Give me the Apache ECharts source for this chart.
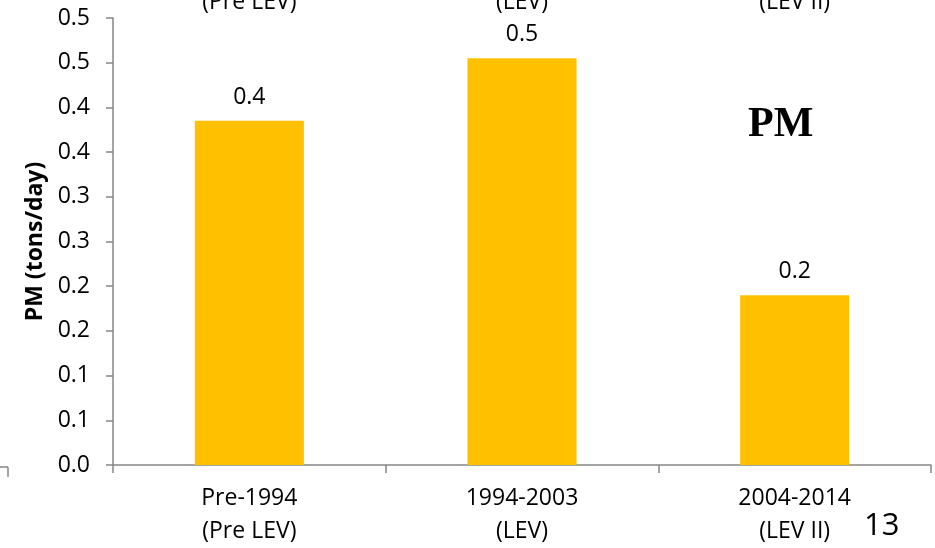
<!DOCTYPE html>
<html><head><meta charset="utf-8">
<script src="https://cdn.jsdelivr.net/npm/echarts@6/dist/echarts.min.js"></script>
<style>html,body{margin:0;padding:0;background:#fff}#c{width:935px;height:548px}</style>
</head><body><div id="c"></div>
<script>
var categories = ['Pre-1994\n(Pre LEV)', '1994-2003\n(LEV)', '2004-2014\n(LEV II)'];
var pmValues = [0.385, 0.455, 0.19];
var barLabels = ['0.4', '0.5', '0.2'];
var yTickLabels = ['0.0','0.1','0.1','0.2','0.2','0.3','0.3','0.4','0.4','0.5','0.5'];
var topFragments = ['(Pre LEV)', '(LEV)', '(LEV II)'];

var FONT = '"Open Sans", "Liberation Sans", sans-serif';
var FS = 23;
var chart = echarts.init(document.getElementById('c'), null, {renderer:'canvas'});
var axisColor = '#868686';
var baseGraphics = [
  {type: 'text', left: 748, top: 104, style: {text: 'PM', font: 'bold 42px "Liberation Serif", "DejaVu Serif", serif', fill: '#000'}},
  {type: 'text', left: 864, top: 511, style: {text: '13', font: '31px ' + FONT, fill: '#000'}},
  {type: 'line', shape: {x1: 0, y1: 467, x2: 8, y2: 467}, style: {stroke: axisColor, lineWidth: 1.5}},
  {type: 'line', shape: {x1: 8, y1: 467, x2: 8, y2: 477}, style: {stroke: axisColor, lineWidth: 1.5}}
];
chart.setOption({
  animation: false,
  grid: {left: 113, right: 4, top: 18, bottom: 81, containLabel: false},
  xAxis: {
    type: 'category', data: categories,
    axisLine: {lineStyle: {color: axisColor, width: 1.5}},
    axisTick: {show: true, length: 8, lineStyle: {color: axisColor, width: 1.5}},
    axisLabel: {color: '#000', fontSize: FS, fontFamily: FONT, lineHeight: 33, margin: 17, interval: 0}
  },
  yAxis: {
    type: 'value', min: 0, max: 0.5, interval: 0.05,
    name: 'PM (tons/day)', nameLocation: 'middle', nameGap: 64,
    nameTextStyle: {fontSize: 23, fontWeight: 'bold', fontFamily: FONT, color: '#000'},
    axisLine: {show: true, lineStyle: {color: axisColor, width: 1.5}},
    axisTick: {show: true, length: 7, lineStyle: {color: axisColor, width: 1.5}},
    splitLine: {show: false},
    axisLabel: {color: '#000', fontSize: FS, fontFamily: FONT, margin: 23,
      formatter: function(v){ return yTickLabels[Math.round(v/0.05)]; }}
  },
  series: [{
    type: 'bar', data: pmValues, barWidth: '40%',
    itemStyle: {color: '#FFC000'},
    label: {show: true, position: 'top', distance: 12, color: '#000', fontSize: FS, fontFamily: FONT,
      formatter: function(p){ return barLabels[p.dataIndex]; }}
  }],
  graphic: baseGraphics
});
var extra = topFragments.map(function(t, i){
  var x = chart.convertToPixel({xAxisIndex:0}, i);
  return {type:'text', x: x, y: 2, style:{text:t, fontSize:FS, fontFamily:FONT, fill:'#000', align:'center', verticalAlign:'middle'}};
});
chart.setOption({graphic: baseGraphics.concat(extra)}, {replaceMerge: ['graphic']});
</script></body></html>
